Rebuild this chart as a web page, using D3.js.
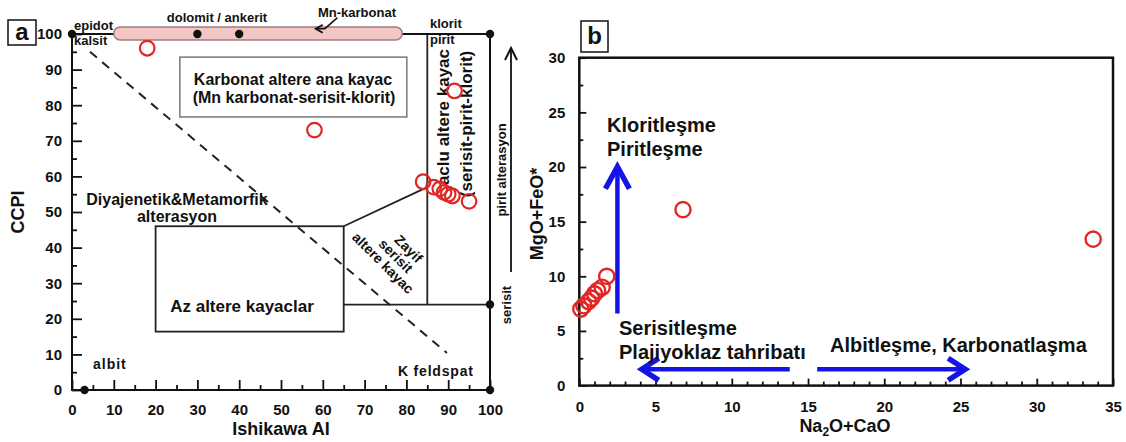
<!DOCTYPE html>
<html>
<head>
<meta charset="utf-8">
<script src="https://cdn.jsdelivr.net/npm/d3@7"></script>
<style>
	body { margin: 0; background: #fff; }
	svg text { font-family: "Liberation Sans", Arial, sans-serif; font-weight: bold; fill: #111; }
</style>
</head>
<body>
<div id="chart"></div>
<script>
// panel a : Ishikawa AI / CCPI
const aiValues = [18, 58, 91.5, 84, 86.5, 88, 89, 90, 91, 95];
const ccpiValues = [96, 73, 84, 58.5, 57, 56.5, 55.5, 55, 54.5, 53];
const aMajorTicks = [0, 10, 20, 30, 40, 50, 60, 70, 80, 90, 100];
const aMinorTicks = [5, 15, 25, 35, 45, 55, 65, 75, 85, 95];

// mineral end members (AI, CCPI)
const mineralNames = ['epidot', 'dolomit', 'ankerit', 'klorit', 'serisit', 'K feldspat', 'albit'];
const mineralAI = [0, 30, 40, 100, 100, 100, 3];
const mineralCCPI = [100, 100, 100, 100, 24, 0, 0];

// panel b : Na2O+CaO / MgO+FeO*
const alkaliValues = [6.8, 33.7, 0.1, 0.3, 0.6, 0.8, 1.0, 1.2, 1.5, 1.8];
const mgFeValues = [16.1, 13.4, 7.0, 7.3, 7.7, 8.0, 8.4, 8.7, 9.0, 10.0];
const bxMajorTicks = [0, 5, 10, 15, 20, 25, 30, 35];
const bxMinorTicks = d3.range(0, 36).filter(d => d % 5 !== 0);
const byMajorTicks = [0, 5, 10, 15, 20, 25, 30];
const byMinorTicks = [2.5, 7.5, 12.5, 17.5, 22.5, 27.5];

const width = 1126;
const height = 442;
const red = '#e12626';
const blue = '#1414e6';

const svg = d3.select('#chart')
	.append('svg')
	.attr('width', width)
	.attr('height', height);

// ---------------- panel a ----------------
const xa = d3.scaleLinear().domain([0, 100]).range([72, 490]);
const ya = d3.scaleLinear().domain([0, 100]).range([390, 34]);

const ga = svg.append('g');

function txt(g, x, y, s, size, anchor = 'middle') {
	return g.append('text')
		.attr('x', x).attr('y', y)
		.attr('text-anchor', anchor)
		.style('font-size', size + 'px')
		.text(s);
}

// region lines
const line = d3.line().x(d => xa(d[0])).y(d => ya(d[1]));
ga.append('path').attr('d', line([[85, 24], [85, 100]])).attr('stroke', '#222').attr('stroke-width', 1.8).attr('fill', 'none');
ga.append('path').attr('d', line([[65, 24], [100, 24]])).attr('stroke', '#222').attr('stroke-width', 1.8).attr('fill', 'none');
ga.append('path').attr('d', line([[65, 46], [85, 57]])).attr('stroke', '#222').attr('stroke-width', 1.8).attr('fill', 'none');
ga.append('rect')
	.attr('x', xa(20)).attr('y', ya(46))
	.attr('width', xa(65) - xa(20)).attr('height', ya(16.4) - ya(46))
	.attr('fill', 'none').attr('stroke', '#222').attr('stroke-width', 1.8);
ga.append('rect')
	.attr('x', xa(25.8)).attr('y', ya(93.5))
	.attr('width', xa(80.1) - xa(25.8)).attr('height', ya(76.7) - ya(93.5))
	.attr('fill', 'none').attr('stroke', '#777').attr('stroke-width', 1.5);
ga.append('path').attr('d', line([[4.3, 95], [89.7, 10.4]]))
	.attr('stroke', '#222').attr('stroke-width', 2).attr('stroke-dasharray', '9,7').attr('fill', 'none');

// frame
ga.append('rect')
	.attr('x', xa(0)).attr('y', ya(100))
	.attr('width', xa(100) - xa(0)).attr('height', ya(0) - ya(100))
	.attr('fill', 'none').attr('stroke', '#111').attr('stroke-width', 2);

// axes
function styleAxis(g) {
	g.select('.domain').remove();
	g.selectAll('.tick line').attr('stroke', '#111').attr('stroke-width', 1.8);
	g.selectAll('.tick text').style('font-size', '15px').attr('fill', '#111');
}
ga.append('g').attr('transform', `translate(${xa(0)},0)`)
	.call(d3.axisLeft(ya).tickValues(aMajorTicks).tickSizeInner(-10).tickSizeOuter(0).tickPadding(10))
	.call(styleAxis);
ga.append('g').attr('transform', `translate(${xa(0)},0)`)
	.call(d3.axisLeft(ya).tickValues(aMinorTicks).tickSizeInner(-5).tickSizeOuter(0).tickFormat(''))
	.call(styleAxis);
ga.append('g').attr('transform', `translate(0,${ya(0)})`)
	.call(d3.axisBottom(xa).tickValues(aMajorTicks).tickSizeInner(-10).tickSizeOuter(0).tickPadding(14))
	.call(styleAxis);
ga.append('g').attr('transform', `translate(0,${ya(0)})`)
	.call(d3.axisBottom(xa).tickValues(aMinorTicks).tickSizeInner(-5).tickSizeOuter(0).tickFormat(''))
	.call(styleAxis);

// Mn-karbonat band
ga.append('rect')
	.attr('x', xa(10)).attr('y', ya(102))
	.attr('width', xa(79) - xa(10)).attr('height', ya(98.3) - ya(102))
	.attr('rx', 6.5)
	.attr('fill', '#f3c5c5').attr('stroke', '#9b8080').attr('stroke-width', 1.5);

// mineral dots
ga.selectAll('circle.min')
	.data(mineralNames)
	.join('circle')
	.attr('class', 'min')
	.attr('cx', (d, i) => xa(mineralAI[i]))
	.attr('cy', (d, i) => ya(mineralCCPI[i]))
	.attr('r', 4.2)
	.attr('fill', '#111');

// Mn-karbonat arrow
ga.append('path').attr('d', line([[63.5, 104.6], [60.5, 101.5], [58.3, 101.5]]))
	.attr('stroke', '#111').attr('stroke-width', 1.5).attr('fill', 'none');
ga.append('path')
	.attr('d', `M${xa(58.3) + 7},${ya(101.5) - 4} L${xa(58.3)},${ya(101.5)} L${xa(58.3) + 7},${ya(101.5) + 4}`)
	.attr('stroke', '#111').attr('stroke-width', 1.8).attr('fill', 'none');

// labels
txt(ga, 74, 30, 'epidot', 13, 'start');
txt(ga, 74, 45, 'kalsit', 13, 'start');
txt(ga, 217, 22, 'dolomit / ankerit', 13);
txt(ga, 357, 17, 'Mn-karbonat', 13);
txt(ga, 430, 28, 'klorit', 13, 'start');
txt(ga, 430, 44, 'pirit', 13, 'start');
txt(ga, 293, 85, 'Karbonat altere ana kayac', 16);
txt(ga, 294, 103, '(Mn karbonat-serisit-klorit)', 16);
txt(ga, 177, 205, 'Diyajenetik&Metamorfik', 16);
txt(ga, 177, 222, 'alterasyon', 16);
txt(ga, 242, 312, 'Az altere kayaclar', 17);
txt(ga, 93, 369, 'albit', 14, 'start').style('letter-spacing', '1px');
txt(ga, 398, 376, 'K feldspat', 14, 'start').style('letter-spacing', '0.8px');

const zg = ga.append('g').attr('transform', 'translate(391,258) rotate(45)');
txt(zg, 6, -14, 'Zayif', 14);
txt(zg, 2, 0, 'serisit', 14);
txt(zg, -2, 14, 'altere kayac', 14);

const vg1 = ga.append('g').attr('transform', 'translate(449,49) rotate(-90)');
txt(vg1, 0, 0, 'aclu altere kayac', 17, 'end');
const vg2 = ga.append('g').attr('transform', 'translate(472,124) rotate(-90)');
txt(vg2, 0, 0, '(serisit-pirit-klorit)', 17);
const vg3 = ga.append('g').attr('transform', 'translate(506,170) rotate(-90)');
txt(vg3, 0, 0, 'pirit alterasyon', 13);
const vg4 = ga.append('g').attr('transform', 'translate(511,305) rotate(-90)');
txt(vg4, 0, 0, 'serisit', 13);

// pirit alteration arrow
ga.append('line').attr('x1', 511).attr('x2', 511).attr('y1', 272).attr('y2', 49)
	.attr('stroke', '#111').attr('stroke-width', 1.8);
ga.append('path').attr('d', 'M505,60 L511,48 L517,60')
	.attr('stroke', '#111').attr('stroke-width', 2).attr('fill', 'none');

// sample circles
ga.selectAll('circle.smp')
	.data(aiValues)
	.join('circle')
	.attr('class', 'smp')
	.attr('cx', d => xa(d))
	.attr('cy', (d, i) => ya(ccpiValues[i]))
	.attr('r', 7.3)
	.attr('fill', 'none')
	.attr('stroke', red)
	.attr('stroke-width', 2.2);

// axis titles + panel letter
const cg = ga.append('g').attr('transform', 'translate(24,212) rotate(-90)');
txt(cg, 0, 0, 'CCPI', 18);
txt(ga, 281, 435, 'Ishikawa AI', 18);
ga.append('rect').attr('x', 8).attr('y', 20).attr('width', 28).attr('height', 25)
	.attr('fill', '#fff').attr('stroke', '#111').attr('stroke-width', 1.5);
txt(ga, 22, 40, 'a', 24);

// ---------------- panel b ----------------
const xb = d3.scaleLinear().domain([0, 35]).range([579.3, 1113]);
const yb = d3.scaleLinear().domain([0, 30]).range([385.6, 57.7]);
const gb = svg.append('g');

function styleAxisB(g) {
	g.select('.domain').remove();
	g.selectAll('.tick line').attr('stroke', '#111').attr('stroke-width', 1.8);
	g.selectAll('.tick text').style('font-size', '15px').attr('fill', '#222');
}
gb.append('g').attr('transform', `translate(${xb(0)},0)`)
	.call(d3.axisLeft(yb).tickValues(byMajorTicks).tickSizeInner(-7).tickSizeOuter(0).tickPadding(14))
	.call(styleAxisB);
gb.append('g').attr('transform', `translate(${xb(0)},0)`)
	.call(d3.axisLeft(yb).tickValues(byMinorTicks).tickSizeInner(-4).tickSizeOuter(0).tickFormat(''))
	.call(styleAxisB);
gb.append('g').attr('transform', `translate(0,${yb(0)})`)
	.call(d3.axisBottom(xb).tickValues(bxMajorTicks).tickSizeInner(-7).tickSizeOuter(0).tickPadding(16))
	.call(styleAxisB);
gb.append('g').attr('transform', `translate(0,${yb(0)})`)
	.call(d3.axisBottom(xb).tickValues(bxMinorTicks).tickSizeInner(-4).tickSizeOuter(0).tickFormat(''))
	.call(styleAxisB);

gb.append('rect')
	.attr('x', xb(0)).attr('y', yb(30))
	.attr('width', xb(35) - xb(0)).attr('height', yb(0) - yb(30))
	.attr('fill', 'none').attr('stroke', '#111').attr('stroke-width', 2.5);

// blue arrows
gb.append('line').attr('x1', xb(2.5)).attr('x2', xb(2.5)).attr('y1', yb(6.6)).attr('y2', yb(20) + 4)
	.attr('stroke', blue).attr('stroke-width', 4.5);
gb.append('path')
	.attr('d', `M${xb(2.5) - 12},${yb(20.3) + 25} L${xb(2.5)},${yb(20.3) + 3} L${xb(2.5) + 12},${yb(20.3) + 25}`)
	.attr('stroke', blue).attr('stroke-width', 5.5).attr('fill', 'none');

gb.append('line').attr('x1', xb(13.8)).attr('x2', xb(3.9) + 4).attr('y1', yb(1.5)).attr('y2', yb(1.5))
	.attr('stroke', blue).attr('stroke-width', 4.5);
gb.append('path')
	.attr('d', `M${xb(3.9) + 20},${yb(1.5) - 11} L${xb(3.9) + 3},${yb(1.5)} L${xb(3.9) + 20},${yb(1.5) + 11}`)
	.attr('stroke', blue).attr('stroke-width', 5.5).attr('fill', 'none');

gb.append('line').attr('x1', xb(15.6)).attr('x2', xb(25.5) - 4).attr('y1', yb(1.5)).attr('y2', yb(1.5))
	.attr('stroke', blue).attr('stroke-width', 4.5);
gb.append('path')
	.attr('d', `M${xb(25.5) - 20},${yb(1.5) - 11} L${xb(25.5) - 3},${yb(1.5)} L${xb(25.5) - 20},${yb(1.5) + 11}`)
	.attr('stroke', blue).attr('stroke-width', 5.5).attr('fill', 'none');

// texts
txt(gb, 607, 132, 'Kloritleşme', 20, 'start');
txt(gb, 607, 156, 'Piritleşme', 20, 'start');
txt(gb, 619, 335, 'Serisitleşme', 20, 'start');
txt(gb, 619, 359, 'Plajiyoklaz tahribatı', 20, 'start');
txt(gb, 830, 352, 'Albitleşme, Karbonatlaşma', 20, 'start');

// samples
gb.selectAll('circle.smp')
	.data(alkaliValues)
	.join('circle')
	.attr('class', 'smp')
	.attr('cx', d => xb(d))
	.attr('cy', (d, i) => yb(mgFeValues[i]))
	.attr('r', 7.6)
	.attr('fill', 'none')
	.attr('stroke', red)
	.attr('stroke-width', 2.4);

// axis titles
const mg = gb.append('g').attr('transform', 'translate(543,214) rotate(-90)');
txt(mg, 0, 0, 'MgO+FeO*', 18);
const nt = txt(gb, 845, 432, 'Na', 18);
nt.append('tspan').attr('dy', 4).style('font-size', '12px').text('2');
nt.append('tspan').attr('dy', -4).text('O+CaO');

gb.append('rect').attr('x', 581).attr('y', 21).attr('width', 27).attr('height', 31)
	.attr('fill', '#fff').attr('stroke', '#111').attr('stroke-width', 1.5);
txt(gb, 594.5, 44, 'b', 24);
</script>
</body>
</html>
